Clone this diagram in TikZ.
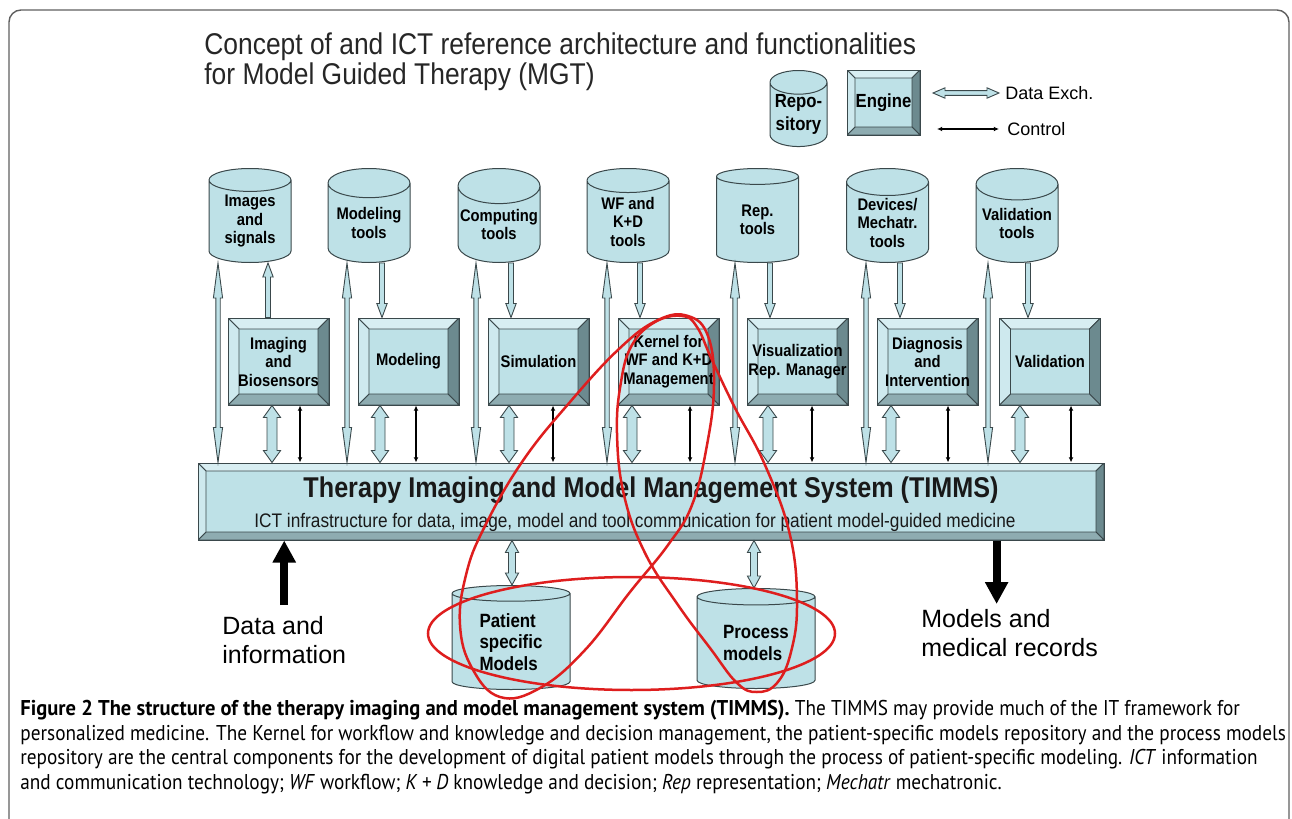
\documentclass[tikz,border=0pt]{standalone}
\usepackage{fontspec}
\setmainfont{Liberation Sans}
\newfontfamily\narrowsf{Liberation Sans}[FakeStretch=0.88]
\newfontfamily\capsf{PT Sans}[FakeStretch=0.9, BoldFeatures={FakeStretch=0.96}]
\usetikzlibrary{shapes.geometric,arrows.meta,calc,positioning}

\definecolor{tmface}{RGB}{190,225,231}
\definecolor{tmline}{RGB}{58,72,75}
\definecolor{tmtop}{RGB}{216,238,242}
\definecolor{tmleft}{RGB}{206,233,238}
\definecolor{tmright}{RGB}{108,138,143}
\definecolor{tmbottom}{RGB}{142,172,177}
\definecolor{loopred}{RGB}{222,30,30}
\definecolor{framegray}{RGB}{95,95,95}

\newcommand{\boxfont}{\narrowsf\bfseries\fontsize{8.4}{9.25}\selectfont}
\newcommand{\legfont}{\narrowsf\bfseries\fontsize{9.5}{11.5}\selectfont}

\tikzset{
  tipsize/.code args={#1/#2/#3}{\def\dxs{#1}\def\dxw{#2}\def\dxl{#3}},
  % hollow data arrow, heads at both ends
  dex/.style={draw=tmline, fill=tmface, line width=0.45pt, tipsize=#1,
    to path={(\tikztostart)
      -- ($(\tikztostart)!\dxl!(\tikztotarget)!\dxw!90:(\tikztotarget)$)
      -- ($(\tikztostart)!\dxl!(\tikztotarget)!\dxs!90:(\tikztotarget)$)
      -- ($(\tikztotarget)!\dxl!(\tikztostart)!\dxs!-90:(\tikztostart)$)
      -- ($(\tikztotarget)!\dxl!(\tikztostart)!\dxw!-90:(\tikztostart)$)
      -- (\tikztotarget)
      -- ($(\tikztotarget)!\dxl!(\tikztostart)!\dxw!90:(\tikztostart)$)
      -- ($(\tikztotarget)!\dxl!(\tikztostart)!\dxs!90:(\tikztostart)$)
      -- ($(\tikztostart)!\dxl!(\tikztotarget)!\dxs!-90:(\tikztotarget)$)
      -- ($(\tikztostart)!\dxl!(\tikztotarget)!\dxw!-90:(\tikztotarget)$)
      -- cycle}},
  % hollow data arrow, one head
  dexto/.style={draw=tmline, fill=tmface, line width=0.45pt, tipsize=#1,
    to path={($(\tikztostart)!\dxs!90:(\tikztotarget)$)
      -- ($(\tikztotarget)!\dxl!(\tikztostart)!\dxs!-90:(\tikztostart)$)
      -- ($(\tikztotarget)!\dxl!(\tikztostart)!\dxw!-90:(\tikztostart)$)
      -- (\tikztotarget)
      -- ($(\tikztotarget)!\dxl!(\tikztostart)!\dxw!90:(\tikztostart)$)
      -- ($(\tikztotarget)!\dxl!(\tikztostart)!\dxs!90:(\tikztostart)$)
      -- ($(\tikztostart)!\dxs!-90:(\tikztotarget)$)
      -- cycle}},
  ctl/.style={draw=black, line width=0.75pt,
    {Latex[length=2.6pt,width=2.4pt]}-{Latex[length=2.6pt,width=2.4pt]}},
  bigarrow/.style={draw=black, line width=4pt, -{Triangle[length=11pt,width=11pt]}},
  bevel/.style={path picture={
    \coordinate (pp1) at (path picture bounding box.north west);
    \coordinate (pp2) at (path picture bounding box.north east);
    \coordinate (pp3) at (path picture bounding box.south east);
    \coordinate (pp4) at (path picture bounding box.south west);
    \coordinate (pq1) at ([shift={(#1,-#1)}]pp1);
    \coordinate (pq2) at ([shift={(-#1,-#1)}]pp2);
    \coordinate (pq3) at ([shift={(-#1,#1)}]pp3);
    \coordinate (pq4) at ([shift={(#1,#1)}]pp4);
    \filldraw[fill=tmtop, draw=tmline, line width=0.4pt] (pp1) -- (pp2) -- (pq2) -- (pq1) -- cycle;
    \filldraw[fill=tmright, draw=tmline, line width=0.4pt] (pp2) -- (pp3) -- (pq3) -- (pq2) -- cycle;
    \filldraw[fill=tmbottom, draw=tmline, line width=0.4pt] (pp3) -- (pp4) -- (pq4) -- (pq3) -- cycle;
    \filldraw[fill=tmleft, draw=tmline, line width=0.4pt] (pp4) -- (pp1) -- (pq1) -- (pq4) -- cycle;
  }},
  engine/.style={draw=tmline, fill=tmface, line width=0.5pt, minimum width=50.5pt,
    minimum height=43.5pt, inner sep=0pt, align=center, font=\boxfont, bevel=5.5pt},
  tank/.style={cylinder, shape border rotate=90, aspect=0.45, draw=tmline, fill=tmface,
    line width=0.5pt, minimum width=41pt, minimum height=47pt, inner sep=0pt,
    align=center, font=\boxfont},
  titletext/.style={inner sep=0pt, align=left, text=black!85,
    font=\narrowsf\fontsize{15}{15}\selectfont},
  legtext/.style={inner sep=0pt, font=\fontsize{9}{10}\selectfont},
  outtext/.style={inner sep=0pt, align=left, font=\fontsize{12.5}{14.5}\selectfont},
  redloop/.style={draw=loopred, line width=1.25pt}
}

\begin{document}
\begin{tikzpicture}[x=0.5pt, y=-0.5pt]
\useasboundingbox (0,0) rectangle (1292,819);
\draw[framegray, line width=0.7pt, rounded corners=6pt] (9,819) -- (9,10) -- (1289,10) -- (1289,819);

% title and legend
\node[titletext, anchor=north west] (title) at (204,32)
  {Concept of and ICT reference architecture and functionalities\\for Model Guided Therapy (MGT)};
\node[tank, minimum width=28.5pt, minimum height=32.5pt, aspect=0.5, font=\legfont, anchor=north] (legrepo) at (798.5,70) {Repo-\\sitory};
\node[engine, minimum width=36.5pt, minimum height=32.5pt, bevel=4pt, font=\legfont] (legengine) at (883.5,102.5) {Engine};
\node[legtext, anchor=west] (legdex) at (1005,93) {Data Exch.};
\node[legtext, anchor=west] (legctl) at (1007,129) {Control};
\coordinate (dexstart) at (933,93);
\coordinate (ctlstart) at (937,129);
\draw[dex=1.2pt/2.6pt/6pt] (dexstart) to ([xshift=-3pt]legdex.west);
\draw[ctl] (ctlstart) -- ([xshift=-4pt]legctl.west);

% tool repositories
\node[tank, anchor=north] (c1) at (250,168) {Images\\and\\signals};
\node[tank, anchor=north] (c2) at (369,168) {Modeling\\tools};
\node[tank, anchor=north] (c3) at (499,168) {Computing\\tools};
\node[tank, anchor=north] (c4) at (628,168) {WF and\\K+D\\tools};
\node[tank, anchor=north] (c5) at (757.5,168) {Rep.\\tools};
\node[tank, anchor=north] (c6) at (887.5,168) {Devices/\\Mechatr.\\tools};
\node[tank, anchor=north] (c7) at (1017,168) {Validation\\tools};

% engines
\node[engine] (e1) at (278.5,361.5) {Imaging\\and\\Biosensors};
\node[engine] (e2) at (408.5,361.5) {Modeling};
\node[engine] (e3) at (538.5,361.5) {Simulation};
\node[engine] (e4) at (668.5,361.5) {Kernel for\\WF and K+D\\Management};
\node[engine] (e5) at (797.5,361.5) {Visualization\\Rep. Manager};
\node[engine] (e6) at (927.5,361.5) {Diagnosis\\and\\Intervention};
\node[engine] (e7) at (1050,361.5) {Validation};

% TIMMS bar
\node[draw=tmline, fill=tmface, line width=0.5pt, minimum width=453pt, minimum height=38.5pt, bevel=4pt] (timms) at (651,501.5) {};
\node[font=\narrowsf\bfseries\fontsize{14.3}{16}\selectfont, text=black!90] (timmsname) at ([yshift=5.75pt]timms.center)
  {Therapy Imaging and Model Management System (TIMMS)};
\node[font=\narrowsf\fontsize{9.8}{11}\selectfont, text=black!90] (timmssub) at ([shift={(-8pt,-10.25pt)}]timms.center)
  {ICT infrastructure for data, image, model and tool communication for patient model-guided medicine};

% connections tools / engines / TIMMS
\draw[dexto=1.25pt/2.6pt/7pt] (268,0 |- e1.north) to (268,0 |- c1.south);
\foreach \i/\rx in {2/382,3/511,4/640,5/770,6/900,7/1028}
  \draw[dexto=1.25pt/2.6pt/7pt] (\rx,0 |- c\i.south) to (\rx,0 |- e\i.north);
\foreach \i/\lx/\dx/\kx in {1/218/272/300, 2/347/380/416, 3/476/509/553, 4/607/632/690,
                           5/735/768/812, 6/866/891/948, 7/988/1020/1071}{
  \draw[dex=1.1pt/2.3pt/17.5pt] (\lx,0 |- c\i.south) to (\lx,0 |- timms.north);
  \draw[dex=2.5pt/4.3pt/6pt] (\dx,0 |- e\i.south) to (\dx,0 |- timms.north);
  \draw[ctl] (\kx,0 |- e\i.south) -- (\kx,0 |- timms.north);
}

% model repositories
\node[tank, minimum width=59pt, minimum height=52pt, aspect=0.25, align=left,
  font=\narrowsf\bfseries\fontsize{9.6}{10.75}\selectfont, anchor=north] (psm) at (511,585) {Patient\\specific\\Models};
\node[tank, minimum width=59pt, minimum height=50pt, aspect=0.25, align=left,
  font=\narrowsf\bfseries\fontsize{9.6}{10.75}\selectfont, anchor=north] (prm) at (756,588) {Process\\models};
\draw[dex=1.75pt/3.3pt/6pt] (512,0 |- timms.south) to (512,0 |- psm.north);
\draw[dex=1.75pt/3.3pt/6pt] (754,0 |- timms.south) to (754,0 |- prm.north);

% input / output
\node[outtext, anchor=north west] (datain) at (222,616) {Data and\\information};
\node[outtext, anchor=north west] (modout) at (921,609) {Models and\\medical records};
\coordinate (datatop) at ([yshift=5.5pt]datain.north);
\coordinate (modtop) at ([shift={(-6.5pt,2.5pt)}]modout.north);
\draw[bigarrow] (datatop) -- (datatop |- timms.south);
\draw[bigarrow] (modtop |- timms.south) -- (modtop);

% red annotation
\draw[redloop] (631.5,633.5) ellipse [x radius=101.75pt, y radius=28.25pt];
\draw[redloop] plot[smooth cycle, tension=0.7] coordinates {(500,697) (472,668) (460,625) (466,575)
  (484,528) (522,462) (570,402) (620,348) (658,320) (688,316) (708,336) (714,385) (707,445)
  (692,505) (668,545) (630,592) (585,650) (540,688)};
\draw[redloop] plot[smooth cycle, tension=0.7] coordinates {(682,316) (655,322) (632,345) (621,382)
  (617,433) (624,495) (645,553) (678,605) (710,648) (737,683) (757,692) (777,683) (791,652)
  (797,603) (790,535) (765,465) (735,408) (712,360) (697,327)};

% caption
\node[anchor=north west, inner sep=0pt, align=left, font=\capsf\fontsize{10.7}{12.25}\selectfont] (caption) at (20,700)
  {\textbf{Figure 2 The structure of the therapy imaging and model management system (TIMMS).} The TIMMS may provide much of the IT framework for\\
   personalized medicine. The Kernel for workflow and knowledge and decision management, the patient-specific models repository and the process models\\
   repository are the central components for the development of digital patient models through the process of patient-specific modeling. \textit{ICT} information\\
   and communication technology; \textit{WF} workflow; \textit{K + D} knowledge and decision; \textit{Rep} representation; \textit{Mechatr} mechatronic.};
\end{tikzpicture}
\end{document}
